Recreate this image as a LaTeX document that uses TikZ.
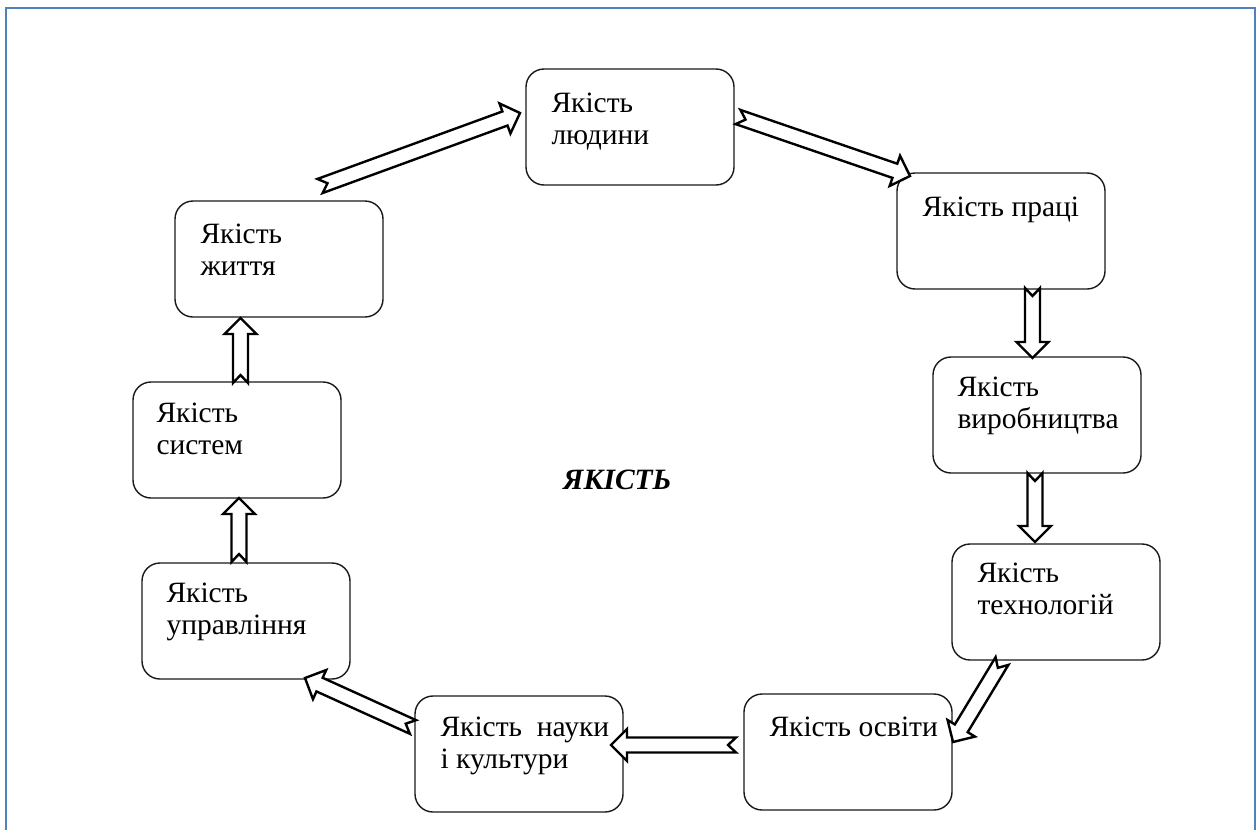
\documentclass[tikz,border=0pt]{standalone}
\usepackage{fontspec}
\setmainfont{Liberation Serif}
\usetikzlibrary{calc, positioning}
\definecolor{frame_blue}{RGB}{79, 129, 189}
\tikzset{
    quality_node/.style={
        draw=black!90,
        fill=white,
        line width=1.4pt,
        rounded corners=18pt,
        minimum width=208pt,
        minimum height=116pt
    },
    label_node/.style={
        anchor=base west,
        inner sep=0pt,
        align=left,
        font=\fontsize{29.5}{32}\selectfont
    },
    arrow_style/.style={
        draw=black,
        fill=white,
        line width=2.4pt,
        line join=miter
    },
    frame_style/.style={
        draw=frame_blue,
        line width=2.2pt
    }
}
% hollow block arrow with a notched tail, from #1 (tail) to #2 (tip)
\newcommand{\hollowarrow}[2]{%
    \coordinate (head) at ($(#2)!16pt!(#1)$);
    \draw[arrow_style] ($(#1)!7.5pt!90:(#2)$) -- ($(head)!7.5pt!-90:(#1)$)
        -- ($(head)!16pt!-90:(#1)$) -- (#2) -- ($(head)!16pt!90:(#1)$)
        -- ($(head)!7.5pt!90:(#1)$) -- ($(#1)!7.5pt!-90:(#2)$)
        -- ($(#1)!8pt!(#2)$) -- cycle;
}

\begin{document}
\begin{tikzpicture}[x=1pt, y=-1pt]

\useasboundingbox (0,0) rectangle (1256,830);

% Frame
\draw[frame_style] (6,830) -- (6,8) -- (1255,8) -- (1255,830);

% Quality boxes
\node[quality_node] (people) at (630,127) {};
\node[quality_node] (work) at (1001,231) {};
\node[quality_node] (production) at (1037,415) {};
\node[quality_node] (technology) at (1056,602) {};
\node[quality_node] (education) at (848,752) {};
\node[quality_node] (science) at (519,754) {};
\node[quality_node] (management) at (246,621) {};
\node[quality_node] (systems) at (237,440) {};
\node[quality_node] (life) at (279,259) {};

% Box texts (base = last line)
\node[label_node] (people_text) at ($(people.north west)+(26,76)$) {Якість\\людини};
\node[label_node] (work_text) at ($(work.north west)+(26,44)$) {Якість праці};
\node[label_node] (production_text) at ($(production.north west)+(25,72)$) {Якість\\виробництва};
\node[label_node] (technology_text) at ($(technology.north west)+(26,71)$) {Якість\\технологій};
\node[label_node] (education_text) at ($(education.north west)+(26,43)$) {Якість освіти};
\node[label_node] (science_text) at ($(science.north west)+(26,73)$) {Якість\ \ науки\\і культури};
\node[label_node] (management_text) at ($(management.north west)+(25,72)$) {Якість\\управління};
\node[label_node] (systems_text) at ($(systems.north west)+(24,73)$) {Якість\\систем};
\node[label_node] (life_text) at ($(life.north west)+(26,75)$) {Якість\\життя};

% Centre
\node[label_node, font=\fontsize{29.5}{32}\selectfont\bfseries\itshape] (quality) at (563,489) {ЯКІСТЬ};

% Arrow ends
\coordinate (life_out) at (320,186);
\coordinate (people_in) at (520,113);
\coordinate (people_out) at (738,117);
\coordinate (work_in) at (910,176);
\coordinate (work_out) at (1032.5,288);
\coordinate (production_in) at (1032.5,358);
\coordinate (production_out) at (1035,473);
\coordinate (technology_in) at (1035,542);
\coordinate (technology_out) at (1002,661);
\coordinate (education_in) at (953,742);
\coordinate (education_out) at (736,745);
\coordinate (science_in) at (611,745);
\coordinate (science_out) at (413,727);
\coordinate (management_in) at (305,678);
\coordinate (management_out) at (239,562);
\coordinate (systems_in) at (239,498);
\coordinate (systems_out) at (240.5,383);
\coordinate (life_in) at (240.5,318);

% Arrows around the cycle
\hollowarrow{life_out}{people_in}
\hollowarrow{people_out}{work_in}
\hollowarrow{work_out}{production_in}
\hollowarrow{production_out}{technology_in}
\hollowarrow{technology_out}{education_in}
\hollowarrow{education_out}{science_in}
\hollowarrow{science_out}{management_in}
\hollowarrow{management_out}{systems_in}
\hollowarrow{systems_out}{life_in}

\end{tikzpicture}
\end{document}
